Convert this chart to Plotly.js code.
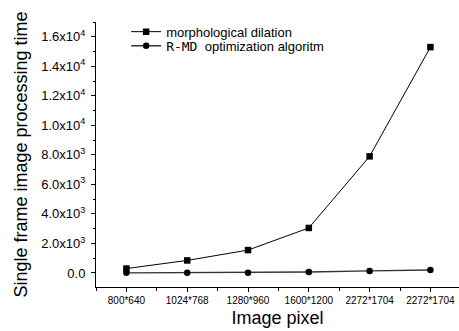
<!DOCTYPE html>
<html><head><meta charset="utf-8">
<script src="https://cdn.plot.ly/plotly-3.0.1.min.js"></script>
<style>html,body{margin:0;padding:0;background:#fff}#c{width:459px;height:331px}</style>
</head><body><div id="c"></div>
<script>
const categories = ["800*640","1024*768","1280*960","1600*1200","2272*1704","2272*1704"];
const dilation = [300, 850, 1550, 3050, 7900, 15300];
const rmd = [10, 20, 15, 70, 140, 200];
const ytickVals = [0, 2000, 4000, 6000, 8000, 10000, 12000, 14000, 16000];
const ytickText = ["0.0","2.0x10<sup>3</sup>","4.0x10<sup>3</sup>","6.0x10<sup>3</sup>","8.0x10<sup>3</sup>","1.0x10<sup>4</sup>","1.2x10<sup>4</sup>","1.4x10<sup>4</sup>","1.6x10<sup>4</sup>"];
const xIdx = categories.map((_, i) => i);

const traces = [
  {x: xIdx, y: dilation, mode: 'lines+markers', name: 'morphological dilation', legend: 'legend',
   line: {color: '#000', width: 1}, marker: {symbol: 'square', size: 6.5, color: '#000'}},
  {x: xIdx, y: rmd, mode: 'lines+markers', legend: 'legend2',
   name: "<span style='font-family:\"DejaVu Sans Mono\"'>R-MD</span>  optimization algoritm",
   line: {color: '#333', width: 1.4}, marker: {symbol: 'circle', size: 6.5, color: '#000'}}
];
const legCommon = {xanchor: 'left', yanchor: 'top', bgcolor: 'rgba(0,0,0,0)', font: {size: 13}, itemwidth: 30};
const layout = {
  width: 459, height: 331,
  margin: {l: 96, r: 0, t: 22, b: 44},
  paper_bgcolor: '#fff', plot_bgcolor: '#fff',
  font: {family: 'Liberation Sans, Arial, sans-serif', color: '#000'},
  showlegend: true,
  legend: Object.assign({x: 0.083, y: 1.02}, legCommon),
  legend2: Object.assign({x: 0.083, y: 0.967}, legCommon),
  xaxis: {range: [-0.5, 5.47], tickvals: xIdx, ticktext: categories,
          showgrid: false, zeroline: false, showline: true, linecolor: '#000', linewidth: 1,
          ticks: 'outside', ticklen: 4, tickcolor: '#000', tickfont: {size: 10},
          minor: {tickvals: [-0.5,0.5,1.5,2.5,3.5,4.5,5.5], ticks: 'outside', ticklen: 3, tickcolor: '#000'},
          title: {text: 'Image pixel', font: {size: 18}, standoff: 6}},
  yaxis: {range: [-950, 17000], tickvals: ytickVals, ticktext: ytickText,
          showgrid: false, zeroline: false, showline: true, linecolor: '#000', linewidth: 1,
          ticks: 'outside', ticklen: 4, tickcolor: '#000', tickfont: {size: 13}, ticklabelstandoff: 3,
          minor: {dtick: 1000, tick0: 0, ticks: 'outside', ticklen: 2, tickcolor: '#000'},
          title: {text: 'Single frame image processing time', font: {size: 18}, standoff: 8}}
};
Plotly.newPlot('c', traces, layout, {displayModeBar: false, staticPlot: true});
</script></body></html>
